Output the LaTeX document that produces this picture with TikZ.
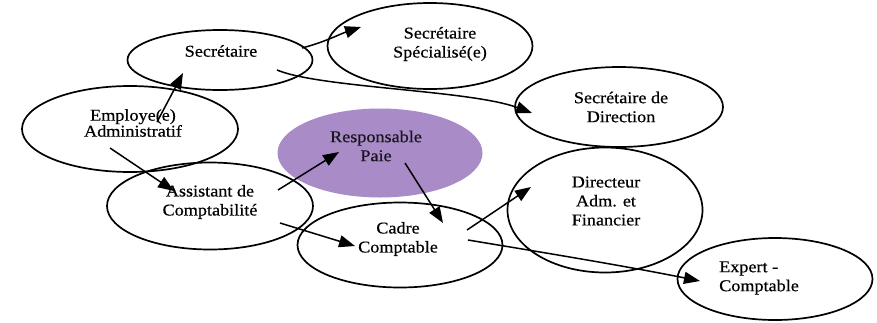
\documentclass[tikz,border=0pt]{standalone}
\usepackage{fontspec}
\setmainfont{Liberation Serif}[FakeStretch=1.1,FakeBold=0.5]
\usetikzlibrary{shapes.geometric,arrows.meta}
\definecolor{paiefill}{HTML}{A88BC7}
\tikzset{
  oval/.style={ellipse,draw=black,line width=1.7pt,inner sep=0pt},
  lbl/.style={align=center,inner sep=0pt,font=\fontsize{16.5}{19}\selectfont},
  arr/.style={line width=1.5pt,-{Triangle[length=16pt,width=12pt]}}
}
\begin{document}
\begin{tikzpicture}[x=1pt,y=-1pt]
\useasboundingbox (0,0) rectangle (877,322);
% ellipses
\node[oval,fill=paiefill,draw=none,minimum width=205pt,minimum height=89pt] (paie) at (380,153) {};
\node[oval,minimum width=185pt,minimum height=60pt] (sec) at (220,60) {};
\node[oval,minimum width=205pt,minimum height=86pt] (spe) at (430,46) {};
\node[oval,minimum width=208pt,minimum height=80pt] (dir) at (619,107) {};
\node[oval,minimum width=216pt,minimum height=86pt] (emp) at (130,129) {};
\node[oval,minimum width=206pt,minimum height=87pt] (asst) at (210,206) {};
\node[oval,minimum width=205pt,minimum height=85pt] (cadre) at (400,245) {};
\node[oval,minimum width=195pt,minimum height=125pt] (daf) at (605,210) {};
\node[oval,minimum width=195pt,minimum height=82pt] (exp) at (775,279) {};
% labels
\node[lbl] (secT) at (221,51) {Secrétaire};
\node[lbl] (speT) at (440,44) {Secrétaire\\Spécialisé(e)};
\node[lbl] (dirT) at (621,107) {Secrétaire de\\Direction};
\node[lbl,font=\fontsize{16.5}{16}\selectfont] (empT) at (133,123) {Employe(e)\\Administratif};
\node[lbl,text=black!85!paiefill] (paieT) at (376,146) {Responsable\\Paie};
\node[lbl] (asstT) at (210,202) {Assistant de\\Comptabilité};
\node[lbl] (cadreT) at (398,239) {Cadre\\Comptable};
\node[lbl] (dafT) at (606,201) {Directeur\\Adm. et\\Financier};
\node[lbl,align=left,anchor=west] (expT) at (719,278) {Expert -\\Comptable};
% connector endpoints
\coordinate (a1s) at (157,122); \coordinate (a1t) at (183,73);
\coordinate (a2s) at (302,48);  \coordinate (a2t) at (361,27);
\coordinate (a3s) at (277,70);  \coordinate (a3t) at (532,113);
\coordinate (a4s) at (110,148); \coordinate (a4t) at (174,191);
\coordinate (a5s) at (278,190); \coordinate (a5t) at (339,152);
\coordinate (a6s) at (405,163); \coordinate (a6t) at (443,223);
\coordinate (a7s) at (280,223); \coordinate (a7t) at (355,246);
\coordinate (a8s) at (467,230); \coordinate (a8t) at (531,187);
\coordinate (a9s) at (468,240); \coordinate (a9t) at (700,281);
% connectors
\draw[arr] (a1s) -- (a1t);
\draw[arr] (a2s) .. controls (325,42) and (340,34) .. (a2t);
\draw[arr] (a3s) .. controls (320,88) and (470,90) .. (a3t);
\draw[arr] (a4s) -- (a4t);
\draw[arr] (a5s) -- (a5t);
\draw[arr] (a6s) -- (a6t);
\draw[arr] (a7s) -- (a7t);
\draw[arr] (a8s) -- (a8t);
\draw[arr] (a9s) .. controls (540,252) and (620,265) .. (a9t);
\end{tikzpicture}
\end{document}
